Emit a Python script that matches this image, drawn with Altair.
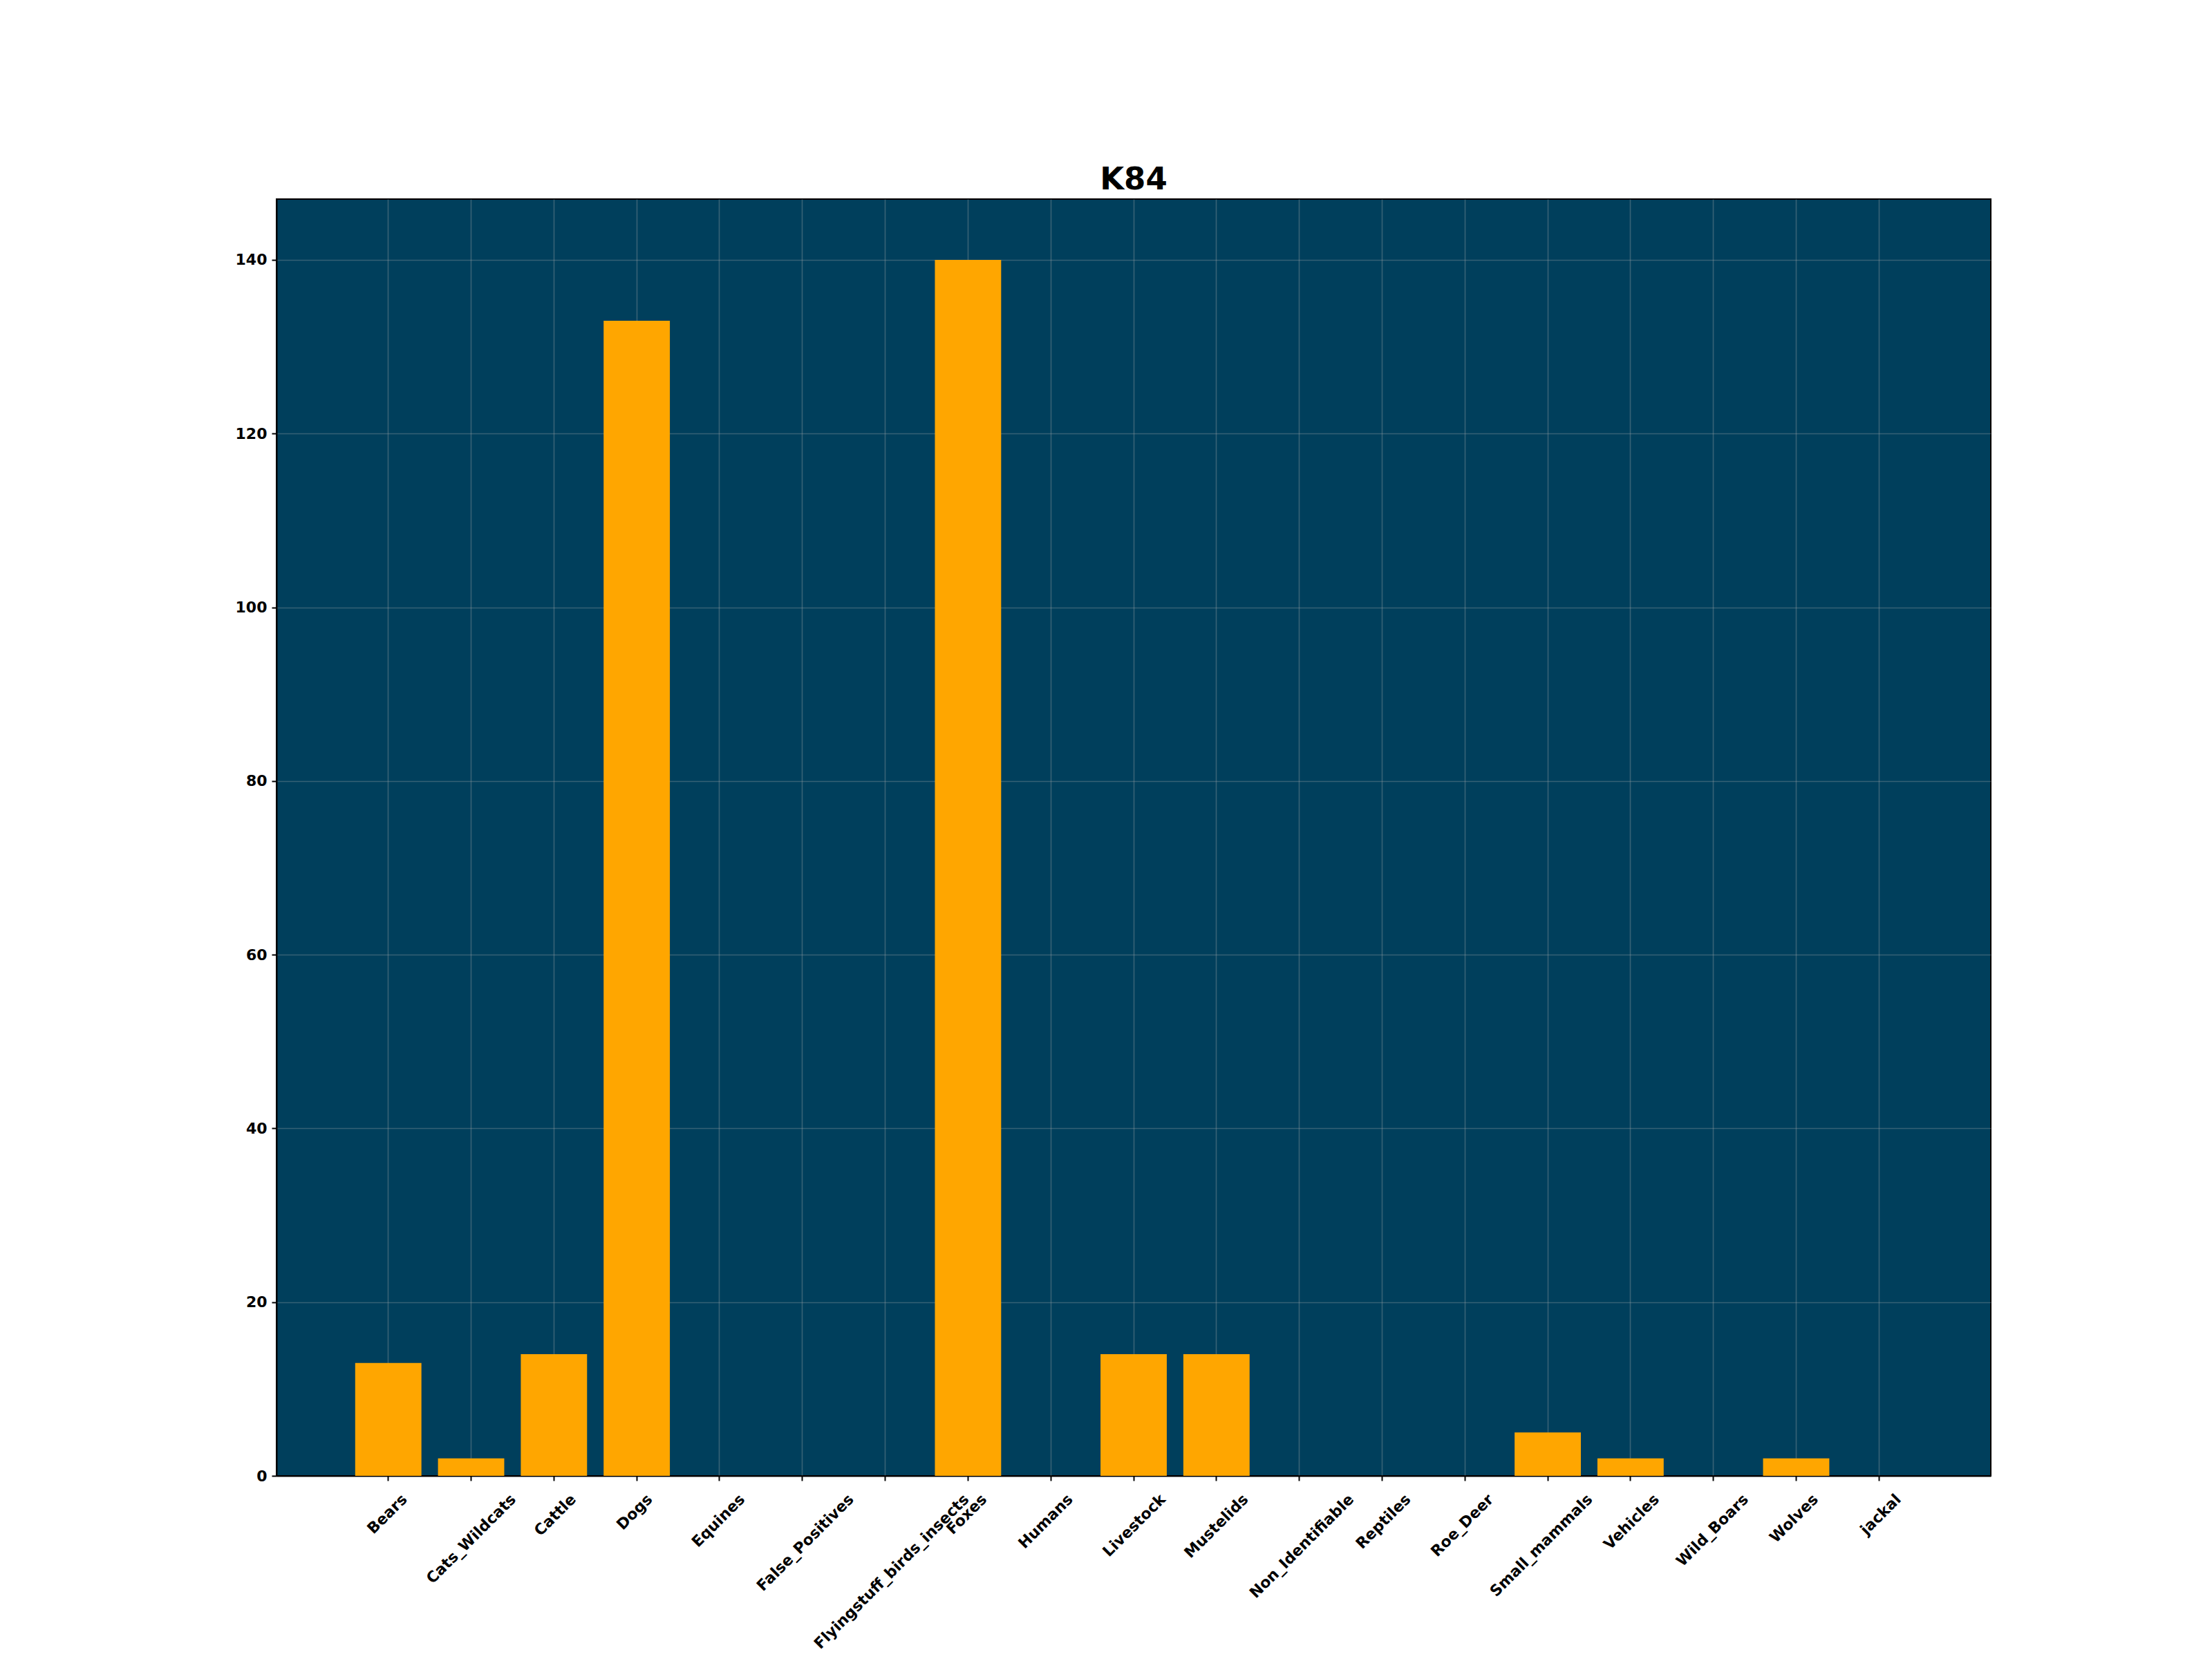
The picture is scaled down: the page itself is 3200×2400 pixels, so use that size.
import altair as alt
import pandas as pd

categories = ["Bears", "Cats_Wildcats", "Cattle", "Dogs", "Equines", "False_Positives",
              "Flyingstuff_birds_insects", "Foxes", "Humans", "Livestock", "Mustelids",
              "Non_Identifiable", "Reptiles", "Roe_Deer", "Small_mammals", "Vehicles",
              "Wild_Boars", "Wolves", "jackal"]
counts = [13, 2, 14, 133, 0, 0, 0, 140, 0, 14, 14, 0, 0, 0, 5, 2, 0, 2, 0]
y_ticks = [0, 20, 40, 60, 80, 100, 120, 140]
title_text = "K84"

df = pd.DataFrame({"category": categories, "count": counts})

W, H = 2480, 1847
FONT = "DejaVu Sans"

chart = alt.Chart(df).mark_bar(color="#ffa600").encode(
    x=alt.X(
        "category:N", sort=categories, title=None,
        scale=alt.Scale(paddingInner=0.2, paddingOuter=0.95),
        axis=alt.Axis(
            labelAngle=315, labelAlign="right", labelBaseline="middle",
            labelOffset={"expr": "length(datum.label) * 4.7"},
            labelPadding=23, labelFont=FONT, labelFontSize=22, labelFontWeight="bold",
            labelColor="black", tickColor="black", tickSize=7, tickWidth=2,
            domainColor="black", domainWidth=2, grid=True, labelLimit=0,
            gridColor="#b0b0b0", gridOpacity=0.3, gridWidth=1.7, labelOverlap=False,
        ),
    ),
    y=alt.Y(
        "count:Q", title=None,
        scale=alt.Scale(domain=[0, 147], nice=False, zero=True),
        axis=alt.Axis(
            values=y_ticks, labelFont=FONT, labelFontSize=22, labelFontWeight="bold",
            labelColor="black", tickColor="black", tickSize=7, tickWidth=2,
            labelPadding=7, domainColor="black", domainWidth=2, grid=True,
            gridColor="#b0b0b0", gridOpacity=0.3, gridWidth=1.7,
        ),
    ),
).properties(
    width=W, height=H,
    title=alt.TitleParams(title_text, font=FONT, fontSize=45, fontWeight="bold",
                          color="black", anchor="middle", baseline="alphabetic",
                          offset=13, dy=44),
    autosize=alt.AutoSizeParams(type="none"),
    padding={"left": 392, "top": 280, "right": 312, "bottom": 257},
).configure(
    background="white"
).configure_view(
    stroke="black", strokeWidth=2, fill="#003f5c"
)

chart.save("out.html", embed_options={"renderer": "svg", "actions": False})
